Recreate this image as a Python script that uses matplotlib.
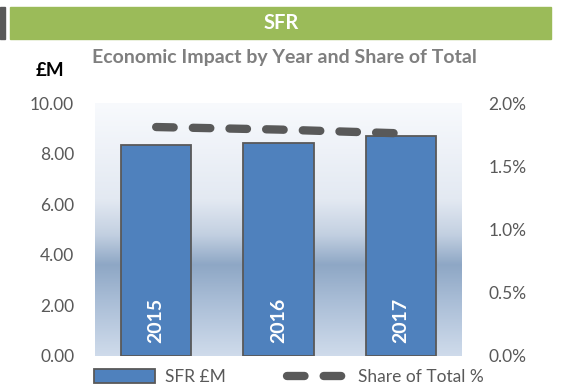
import numpy as np
import matplotlib.pyplot as plt
from matplotlib.colors import LinearSegmentedColormap
from matplotlib.patches import Rectangle, Patch
from matplotlib.lines import Line2D

plt.rcParams['font.family'] = ['Lato', 'DejaVu Sans']

years = ['2015', '2016', '2017']
sfr_m = [8.34, 8.41, 8.70]
share_pct = [1.81, 1.79, 1.76]

W, H = 562, 386
fig = plt.figure(figsize=(W / 100, H / 100), dpi=100)
fig.patch.set_facecolor('white')

def px(x0, y0, w, h):
    return [x0 / W, 1 - (y0 + h) / H, w / W, h / H]

# banner
fig.patches.append(Rectangle((10 / W, 1 - 39 / H), 541 / W, 32 / H,
                             transform=fig.transFigure, color='#9bbb59', zorder=0))
fig.patches.append(Rectangle((0, 1 - 39 / H), 5 / W, 32 / H,
                             transform=fig.transFigure, color='#595959', zorder=0))
fig.text(281 / W, 1 - 23 / H, 'SFR', color='white', fontsize=14.5,
         fontweight='bold', ha='center', va='center')
fig.text(284.5 / W, 1 - 58 / H, 'Economic Impact by Year and Share of Total',
         color='#7f7f7f', fontsize=14, fontweight='bold', ha='center', va='center')
fig.text(50 / W, 1 - 70 / H, '£M', color='black', fontsize=13.5,
         fontweight='bold', ha='center', va='center')

ax = fig.add_axes(px(95, 103, 367, 253))

# vertical gradient behind the plot
grad_cmap = LinearSegmentedColormap.from_list('bg', [
    (0.0, '#cfdbeb'),
    (0.22, '#a9bdd6'),
    (0.36, '#8ea7c5'),
    (0.48, '#c3d0e1'),
    (0.62, '#e3e9f2'),
    (1.0, '#f8fafd'),
])
grad = np.linspace(0, 1, 256).reshape(-1, 1)
ax.imshow(grad, aspect='auto', cmap=grad_cmap, origin='lower',
          extent=[-0.5, 2.5, 0, 10], zorder=0)

x = np.arange(len(years))
ax.bar(x, sfr_m, width=0.575, color='#4f81bd', edgecolor='#595959',
       linewidth=1.3, zorder=2)
for xi, yr in zip(x, years):
    ax.text(xi, 1.42, yr, rotation=90, color='white', fontsize=14,
            fontweight='bold', ha='center', va='center', zorder=3)

ax.set_xlim(-0.5, 2.5)
ax.set_ylim(0, 10)
ax.set_yticks(np.arange(0, 10.01, 2))
ax.set_yticklabels([f'{v:.2f}' for v in np.arange(0, 10.01, 2)])
ax.set_xticks([])
for s in ax.spines.values():
    s.set_visible(False)
ax.tick_params(axis='y', length=0, labelsize=12.5, labelcolor='#595959', pad=15)

ax2 = ax.twinx()
ax2.plot(x, share_pct, color='#595959', linewidth=6, solid_capstyle='round',
         dash_capstyle='round', linestyle=(0, (2.1, 2.3)), zorder=4)
ax2.set_ylim(0, 2)
ax2.set_yticks([0, 0.5, 1.0, 1.5, 2.0])
ax2.set_yticklabels([f'{v:.1f}%' for v in [0, 0.5, 1.0, 1.5, 2.0]])
for s in ax2.spines.values():
    s.set_visible(False)
ax2.tick_params(axis='y', length=0, labelsize=12.5, labelcolor='#595959', pad=19)

handles = [Patch(facecolor='#4f81bd', edgecolor='#595959', linewidth=1.3),
           Line2D([], [], color='#595959', linewidth=6, dash_capstyle='round',
                  linestyle=(0, (2.1, 2.3)))]
leg = fig.legend(handles, ['SFR £M', 'Share of Total %'], loc='center',
                 bbox_to_anchor=(289 / W, 1 - 377 / H), ncol=2, frameon=False,
                 fontsize=12.5, handlelength=3.5, handleheight=0.8,
                 columnspacing=3.5, handletextpad=0.6, labelcolor='#595959')

fig.savefig('out.png', dpi=100)
